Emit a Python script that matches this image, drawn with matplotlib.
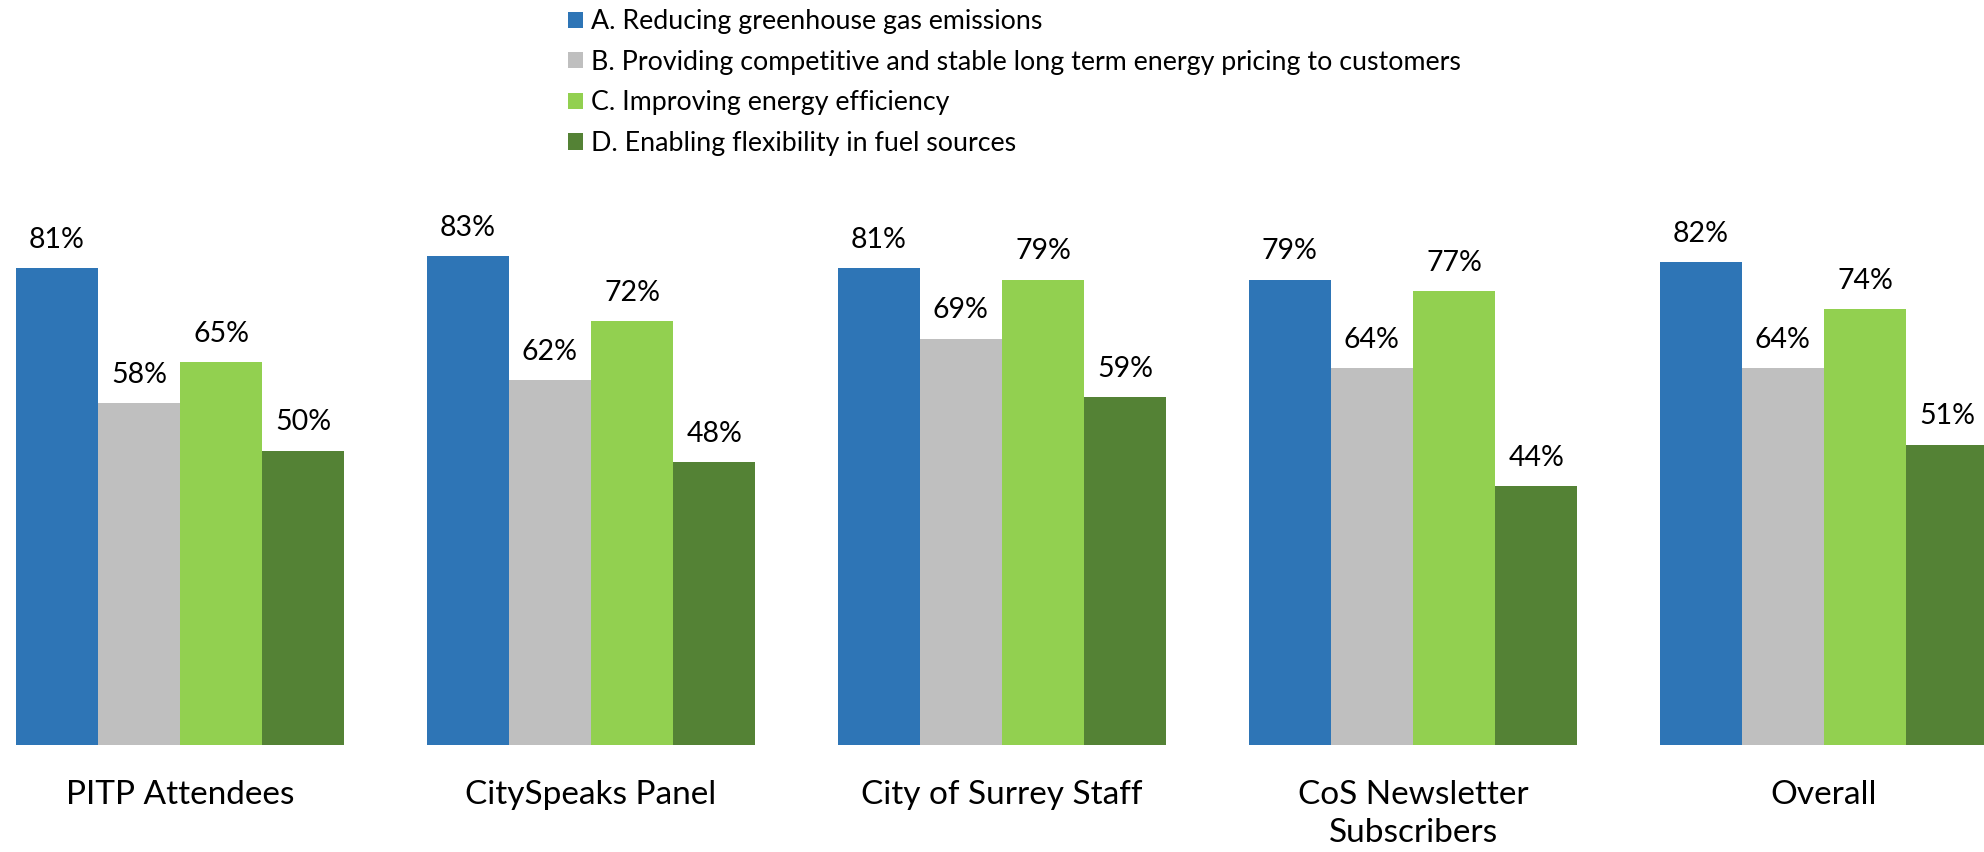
import matplotlib
matplotlib.use("Agg")
import matplotlib.pyplot as plt
from matplotlib.patches import Patch
import numpy as np

categories = ["PITP Attendees", "CitySpeaks Panel", "City of Surrey Staff",
              "CoS Newsletter\nSubscribers", "Overall"]
series_names = ["A. Reducing greenhouse gas emissions",
                "B. Providing competitive and stable long term energy pricing to customers",
                "C. Improving energy efficiency",
                "D. Enabling flexibility in fuel sources"]
series_a = [81, 83, 81, 79, 82]
series_b = [58, 62, 69, 64, 64]
series_c = [65, 72, 79, 77, 74]
series_d = [50, 48, 59, 44, 51]
colors = ["#2E75B6", "#BFBFBF", "#92D050", "#548235"]

plt.rcParams['font.family'] = ['Lato', 'DejaVu Sans']

fig = plt.figure(figsize=(19.84, 8.52), dpi=100)
ax = fig.add_axes([0, 107/852, 1, 589/852])

x = np.arange(len(categories))
w = 0.2
all_series = [series_a, series_b, series_c, series_d]
for i, (vals, col) in enumerate(zip(all_series, colors)):
    bars = ax.bar(x + (i - 1.5) * w, vals, width=w, color=col, edgecolor='none')
    ax.bar_label(bars, labels=[f"{v}%" for v in vals], padding=11, fontsize=20.5, color='black')

ax.set_ylim(0, 100)
ax.set_xlim(-180/411, (1984-180)/411)
ax.set_xticks(x)
ax.set_xticklabels(categories, fontsize=24, linespacing=1.35)
ax.tick_params(axis='x', length=0, pad=25)
ax.set_yticks([])
for s in ax.spines.values():
    s.set_visible(False)

handles = [Patch(facecolor=c, edgecolor='none') for c in colors]
fig.legend(handles, series_names, loc='upper left', bbox_to_anchor=(552/1984, 1.008),
           frameon=False, fontsize=19.3, handlelength=0.55, handleheight=0.55,
           handletextpad=0.3, labelspacing=0.58, borderpad=0.1)

fig.savefig("out.png", dpi=100)
